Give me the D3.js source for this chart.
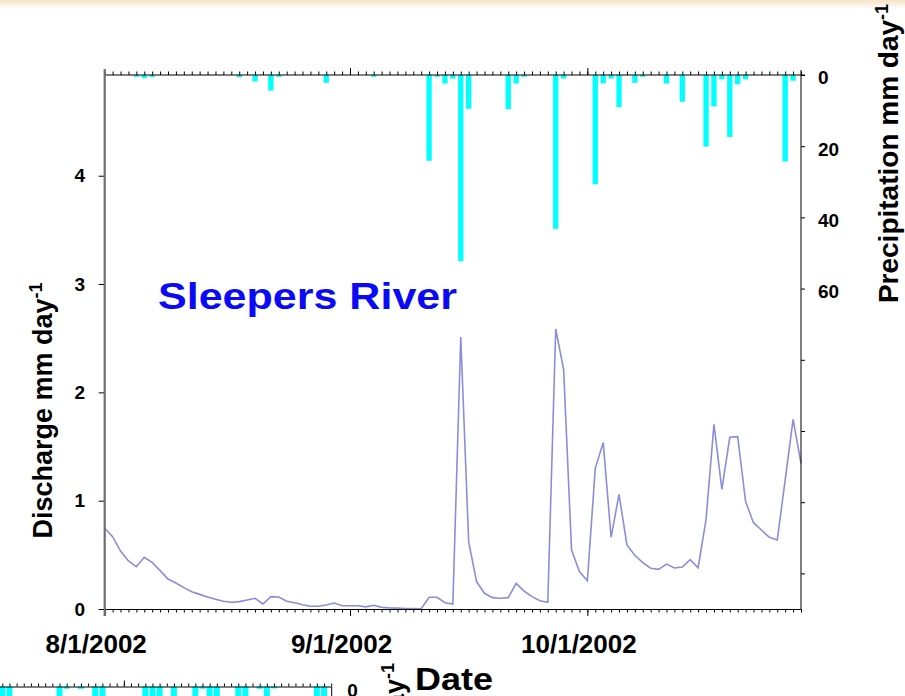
<!DOCTYPE html>
<html>
<head>
<meta charset="utf-8">
<script src="https://cdn.jsdelivr.net/npm/d3@7"></script>
<style>
body { margin: 0; background: #fff; }
svg { display: block; font-family: Arial, "Liberation Sans", sans-serif; }
</style>
</head>
<body>
<div id="chart"></div>
<script>

// daily discharge (mm/day), one value per day from 8/1/2002
var startDate = "2002-08-01";
var endDate = "2002-10-28";
var discharge = [
    0.745, 0.668, 0.535, 0.443, 0.39, 0.477, 0.43, 0.354, 0.277, 0.24,
    0.197, 0.16, 0.135, 0.111, 0.09, 0.071, 0.062, 0.068, 0.083, 0.099,
    0.046, 0.114, 0.111, 0.071, 0.058, 0.04, 0.025, 0.025, 0.037, 0.055,
    0.03, 0.03, 0.03, 0.02, 0.035, 0.015, 0.01, 0.008, 0.005, 0.005,
    0.003, 0.108, 0.108, 0.058, 0.046, 2.51, 0.62, 0.252, 0.145, 0.105,
    0.099, 0.105, 0.237, 0.166, 0.114, 0.077, 0.062, 2.585, 2.213, 0.545,
    0.345, 0.261, 1.299, 1.536, 0.662, 1.059, 0.591, 0.496, 0.428, 0.376,
    0.366, 0.415, 0.379, 0.388, 0.455, 0.381, 0.828, 1.705, 1.105, 1.585,
    1.591, 0.991, 0.797, 0.729, 0.662, 0.638, 1.19, 1.75, 1.345
];

// precipitation (mm/day)
var precipDates = [
    "2002-08-05", "2002-08-06", "2002-08-07", "2002-08-18", "2002-08-20", "2002-08-22",
    "2002-08-23", "2002-08-29", "2002-09-04", "2002-09-11", "2002-09-12", "2002-09-13",
    "2002-09-14", "2002-09-15", "2002-09-16", "2002-09-21", "2002-09-22", "2002-09-23",
    "2002-09-27", "2002-09-28", "2002-10-02", "2002-10-03", "2002-10-04", "2002-10-05",
    "2002-10-07", "2002-10-08", "2002-10-11", "2002-10-13", "2002-10-16", "2002-10-17",
    "2002-10-18", "2002-10-19", "2002-10-20", "2002-10-21", "2002-10-26", "2002-10-27"
];
var precipMm = [
    0.5, 0.9, 0.6, 0.6, 1.8, 4.4,
    0.5, 2.2, 0.5, 24.1, 0.5, 2.4,
    1.0, 52.3, 9.5, 9.6, 2.4, 0.5,
    43.2, 1.0, 30.7, 2.3, 1.0, 9.0,
    2.2, 0.5, 2.4, 7.5, 20.1, 8.8,
    1.2, 17.4, 2.6, 1.2, 24.3, 1.6
];

// the next panel, cut off at the bottom of the slide
var panel2Start = "2002-08-01";
var panel2End = "2002-10-30";
var precip2Dates = [
    "2002-09-14", "2002-09-15", "2002-09-22", "2002-09-23", "2002-09-25", "2002-09-27",
    "2002-09-28", "2002-10-04", "2002-10-05", "2002-10-06", "2002-10-08", "2002-10-11",
    "2002-10-12", "2002-10-13", "2002-10-14", "2002-10-17", "2002-10-18", "2002-10-20",
    "2002-10-21", "2002-10-22", "2002-10-28", "2002-10-29"
];
var precip2Mm = [
    22, 30, 40, 0.7, 0.7, 25,
    18, 35, 15, 20, 28, 30,
    0.7, 22, 12, 26, 14, 0.7,
    18, 0.6, 25, 15
];

var dischargeTicks = [0, 1, 2, 3, 4];
var precipTicks = [0, 20, 40, 60, 80, 100, 120, 140];
var precipLabels = [0, 20, 40, 60];
var monthTicks = ["2002-08-01", "2002-09-01", "2002-10-01"];

var parseDate = d3.utcParse("%Y-%m-%d");
var formatMonth = d3.utcFormat("%-m/%-d/%Y");

var width = 905, height = 696;

var svg = d3.select("#chart").append("svg")
    .attr("width", width)
    .attr("height", height);

// faint slide background at the very top
var grad = svg.append("defs").append("linearGradient")
    .attr("id", "topfade")
    .attr("x1", 0).attr("y1", 0).attr("x2", 0).attr("y2", 1);
grad.append("stop").attr("offset", "0%").attr("stop-color", "#f5e4c6");
grad.append("stop").attr("offset", "100%").attr("stop-color", "#ffffff");
svg.append("rect")
    .attr("width", width)
    .attr("height", 9)
    .attr("fill", "url(#topfade)");

var x = d3.scaleUtc()
    .domain([parseDate(startDate), parseDate(endDate)])
    .range([104.7, 801]);

var yQ = d3.scaleLinear()
    .domain([0, 4.93])
    .range([609, 75]);

var yP = d3.scaleLinear()
    .domain([0, 150])
    .range([75, 609]);

var qData = discharge.map(function(v, i) {
    return { date: d3.utcDay.offset(parseDate(startDate), i), value: v };
});
var pData = precipDates.map(function(d, i) {
    return { date: parseDate(d), value: precipMm[i] };
});

var barW = 5.3;

// precipitation bars hanging from the top
svg.append("g")
    .selectAll("rect")
    .data(pData)
    .enter()
    .append("rect")
    .attr("x", d => x(d.date) - barW / 2)
    .attr("y", yP(0))
    .attr("width", barW)
    .attr("height", d => Math.max(1, yP(d.value) - yP(0)))
    .attr("fill", "#00ffff");

// discharge line
var line = d3.line()
    .x(d => x(d.date))
    .y(d => yQ(d.value));

svg.append("path")
    .datum(qData)
    .attr("d", line)
    .attr("fill", "none")
    .attr("stroke", "#8a8ed8")
    .attr("stroke-width", 1.6);

// day ticks on top and bottom
function dayAxis(axisFn, scale, size) {
    return axisFn(scale)
        .ticks(d3.utcDay.every(1))
        .tickSize(size)
        .tickSizeOuter(0)
        .tickFormat("");
}

var bottomDays = svg.append("g")
    .attr("transform", "translate(0," + yQ(0) + ")")
    .call(dayAxis(d3.axisBottom, x, 3.5));

var topDays = svg.append("g")
    .attr("transform", "translate(0," + yP(0) + ")")
    .call(dayAxis(d3.axisTop, x, 3.5));
topDays.select(".domain")
    .attr("d", "M" + x.range()[0] + ",0H" + (x.range()[1] + 4));

svg.append("g")
    .attr("transform", "translate(0," + yP(0) + ")")
    .call(d3.axisTop(x).tickValues(monthTicks.map(parseDate).slice(1)).tickSize(7).tickFormat(""))
    .select(".domain").remove();

// month ticks + date labels
var bottomMonths = svg.append("g")
    .attr("transform", "translate(0," + yQ(0) + ")")
    .call(d3.axisBottom(x)
        .tickValues(monthTicks.map(parseDate))
        .tickSize(7)
        .tickPadding(18.5)
        .tickFormat(formatMonth));
bottomMonths.select(".domain").remove();
bottomMonths.selectAll("text")
    .attr("dx", -9)
    .attr("font-size", 26)
    .attr("font-weight", "bold")
    .attr("font-family", "Arial, 'Liberation Sans', sans-serif")
    .attr("fill", "#000");

svg.selectAll(".tick line").attr("stroke", "#000");

// left axis: discharge
var leftAxis = svg.append("g")
    .attr("transform", "translate(" + x.range()[0] + ",0)")
    .call(d3.axisLeft(yQ)
        .tickValues(dischargeTicks)
        .tickSize(6)
        .tickSizeOuter(0)
        .tickPadding(13.7)
        .tickFormat(d3.format("d")));
leftAxis.select(".domain").remove();
leftAxis.selectAll("text")
    .attr("font-size", 19)
    .attr("font-weight", "bold")
    .attr("font-family", "Arial, 'Liberation Sans', sans-serif");
leftAxis.append("line")
    .attr("x1", 0).attr("x2", 0)
    .attr("y1", yP(0) - 6)
    .attr("y2", yQ(0) + 7)
    .attr("stroke", "#6e6e6e")
    .attr("stroke-width", 2.2);

// right axis: precipitation (inverted)
var rightAxis = svg.append("g")
    .attr("transform", "translate(" + x.range()[1] + ",0)")
    .call(d3.axisRight(yP)
        .tickValues(precipTicks)
        .tickSize(4)
        .tickSizeOuter(0)
        .tickPadding(13)
        .tickFormat(d => precipLabels.indexOf(d) >= 0 ? d : ""));
rightAxis.select(".domain")
    .attr("d", "M0," + (yP(0) - 5) + "V" + yP.range()[1]);
rightAxis.selectAll("text")
    .attr("dy", "0.47em")
    .attr("font-size", 19)
    .attr("font-weight", "bold")
    .attr("font-family", "Arial, 'Liberation Sans', sans-serif");

// axis titles
var leftTitle = svg.append("text")
    .attr("transform", "translate(51.7,410.5) rotate(-90)")
    .attr("text-anchor", "middle")
    .attr("font-size", 27)
    .attr("font-weight", "bold");
leftTitle.append("tspan").text("Discharge mm day");
leftTitle.append("tspan").attr("dy", -10).attr("font-size", 18).text("-1");

var rightTitle = svg.append("text")
    .attr("transform", "translate(898,153.5) rotate(-90)")
    .attr("text-anchor", "middle")
    .attr("font-size", 28)
    .attr("font-weight", "bold");
rightTitle.append("tspan").text("Precipitation mm day");
rightTitle.append("tspan").attr("dy", -10).attr("font-size", 18).text("-1");

svg.append("text")
    .attr("x", 158)
    .attr("y", 309.3)
    .attr("font-size", 37)
    .attr("font-weight", "bold")
    .attr("fill", "#0a0af5")
    .attr("textLength", 299)
    .attr("lengthAdjust", "spacingAndGlyphs")
    .text("Sleepers River");

// ---- second panel (only its top edge shows) ----
var x2 = d3.scaleUtc()
    .domain([parseDate(panel2Start), parseDate(panel2End)])
    .range([-312.3, 331.2]);
var y2 = d3.scaleLinear()
    .domain([0, 150])
    .range([686.5, 686.5 + 150 * 3.2]);

svg.append("g")
    .selectAll("rect")
    .data(precip2Dates.map((d, i) => ({ date: parseDate(d), value: precip2Mm[i] })))
    .enter()
    .append("rect")
    .attr("x", d => x2(d.date) - 3)
    .attr("y", y2(0))
    .attr("width", 6)
    .attr("height", d => y2(d.value) - y2(0))
    .attr("fill", "#00ffff");

var top2 = svg.append("g")
    .attr("transform", "translate(0," + y2(0) + ")")
    .call(dayAxis(d3.axisTop, x2, 3));
top2.selectAll(".tick line").attr("stroke", "#000");

svg.append("g")
    .attr("transform", "translate(0," + y2(0) + ")")
    .call(d3.axisTop(x2).tickValues([parseDate("2002-10-01")]).tickSize(6).tickFormat(""))
    .select(".domain").remove();

var right2 = svg.append("g")
    .attr("transform", "translate(" + x2.range()[1] + ",0)")
    .call(d3.axisRight(y2)
        .tickValues([0])
        .tickSize(0)
        .tickSizeOuter(0)
        .tickPadding(16));
right2.selectAll("text")
    .attr("dy", "0.5em")
    .attr("font-size", 19)
    .attr("font-weight", "bold")
    .attr("font-family", "Arial, 'Liberation Sans', sans-serif");

var right2Title = svg.append("text")
    .attr("transform", "translate(404,663) rotate(-90)")
    .attr("text-anchor", "end")
    .attr("font-size", 27)
    .attr("font-weight", "bold");
right2Title.append("tspan").text("Precipitation mm day");
right2Title.append("tspan").attr("dy", -10).attr("font-size", 18).text("-1");

// x axis title of the top panel (sits over the next panel)
svg.append("text")
    .attr("x", 415)
    .attr("y", 690)
    .attr("font-size", 31)
    .attr("font-weight", "bold")
    .attr("textLength", 78)
    .attr("lengthAdjust", "spacingAndGlyphs")
    .text("Date");

</script>
</body>
</html>
